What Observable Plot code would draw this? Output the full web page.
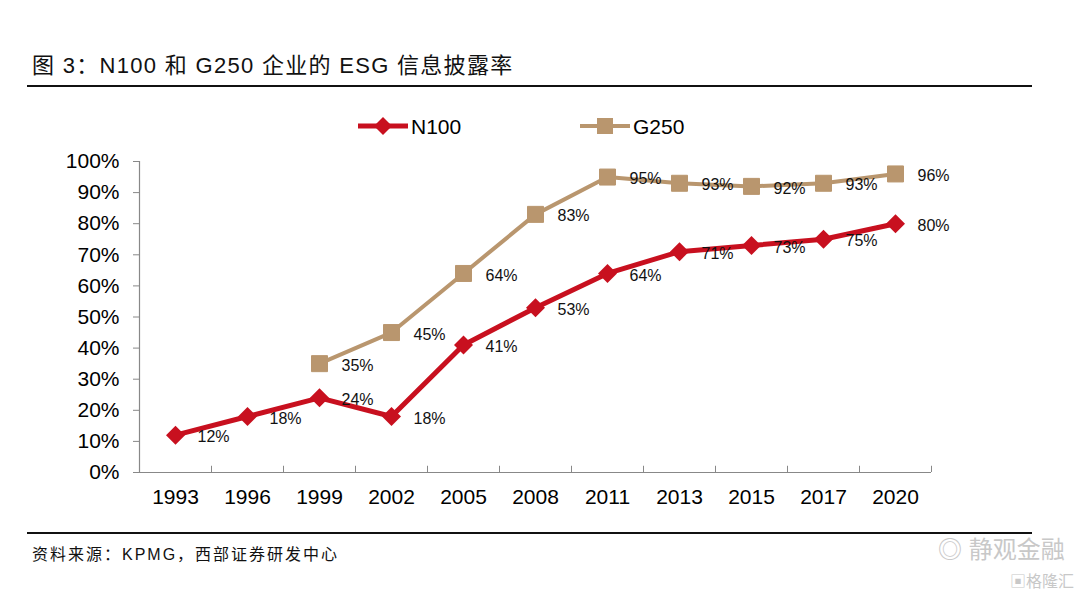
<!DOCTYPE html>
<html><head><meta charset="utf-8">
<script src="https://cdn.jsdelivr.net/npm/d3@7"></script>
<script src="https://cdn.jsdelivr.net/npm/@observablehq/plot@0.6"></script>
<style>
body{margin:0;background:#fff;font-family:"Liberation Sans",Arial,"Noto Sans CJK SC",sans-serif;}
#page{position:relative;width:1080px;height:593px;overflow:hidden;background:#fff;}
.abs{position:absolute;}
#chart g[aria-label="y-axis tick"]{stroke:#888;}
</style></head>
<body>
<div id="page">
  <div class="abs" id="title" style="left:32px;top:47px;font-size:22px;color:#111;white-space:nowrap;letter-spacing:1.3px;">图 3：N100 和 G250 企业的 ESG 信息披露率</div>
  <div class="abs" style="left:27px;top:85px;width:1005px;height:2px;background:#111;"></div>
  <div class="abs" id="legend" style="left:0;top:110px;"></div>
  <div class="abs" id="chart" style="left:0;top:140px;"></div>
  <div class="abs" style="left:27px;top:532px;width:1005px;height:2px;background:#111;"></div>
  <div class="abs" style="left:32px;top:541px;font-size:16px;color:#111;white-space:nowrap;letter-spacing:2px;">资料来源：KPMG，西部证券研发中心</div>
  <div class="abs" style="left:938px;top:530px;font-size:24px;color:#c8c8c8;white-space:nowrap;">◎ 静观金融</div>
  <div class="abs" style="left:1010px;top:568px;font-size:16px;color:#c8c8c8;white-space:nowrap;">▣格隆汇</div>
</div>
<script>
const years = ["1993","1996","1999","2002","2005","2008","2011","2013","2015","2017","2020"];
const n100 = [12,18,24,18,41,53,64,71,73,75,80];
const g250 = [null,null,35,45,64,83,95,93,92,93,96];
const yTicks = [0,10,20,30,40,50,60,70,80,90,100];
const seriesNames = ["N100","G250"];

const RED = "#C8101F";
const TAN = "#B9966E";

const diamond = {draw(ctx, size){ const r = Math.sqrt(size/Math.PI); ctx.moveTo(0,-r); ctx.lineTo(r,0); ctx.lineTo(0,r); ctx.lineTo(-r,0); ctx.closePath(); }};
const square = {draw(ctx, size){ const r = Math.sqrt(size/Math.PI); ctx.rect(-r,-r,2*r,2*r); }};

const dN = years.map((y,i)=>({year:y, v:n100[i]}));
const dG = years.map((y,i)=>({year:y, v:g250[i]})).filter(d=>d.v!=null);
const pct = d => d + "%";

const plot = Plot.plot({
  width:1080, height:380,
  marginTop:21, marginBottom:48, marginLeft:139, marginRight:149,
  style:{fontFamily:'"Liberation Sans",Arial,sans-serif', background:"transparent", color:"#000"},
  x:{type:"point", domain:years, padding:0.5, label:null},
  y:{domain:[0,100], label:null},
  marks:[
    Plot.ruleY([0], {stroke:"#888", strokeWidth:1.2}),
    Plot.ruleX([years[0]], {dx:-36, stroke:"#888", strokeWidth:1.2}),
    Plot.ruleX(years, {x:d=>d, y1:0, y2:2, dx:36, stroke:"#888"}),
    Plot.axisY({ticks:yTicks, tickFormat:pct, tickSize:6, tickPadding:14, fontSize:21, label:null}),
    Plot.axisX({tickSize:0, tickPadding:17, fontSize:21, label:null}),
    Plot.line(dG, {x:"year", y:"v", stroke:TAN, strokeWidth:4}),
    Plot.dot(dG, {x:"year", y:"v", symbol:square, r:8, fill:TAN, stroke:TAN, strokeWidth:1, strokeLinejoin:"round"}),
    Plot.line(dN, {x:"year", y:"v", stroke:RED, strokeWidth:5}),
    Plot.dot(dN, {x:"year", y:"v", symbol:diamond, r:9.5, fill:RED}),
    Plot.text(dG, {x:"year", y:"v", text:d=>pct(d.v), dx:38, dy:2, fontSize:16, fill:"#111"}),
    Plot.text(dN, {x:"year", y:"v", text:d=>pct(d.v), dx:38, dy:2, fontSize:16, fill:"#111"})
  ]
});
document.getElementById("chart").appendChild(plot);

// legend
const lg = d3.select("#legend").append("svg").attr("width",1080).attr("height",32)
  .style("font-family",'"Liberation Sans",Arial,sans-serif');
const items = [{name:seriesNames[0], color:RED, x:358, sym:"d"},{name:seriesNames[1], color:TAN, x:580, sym:"s"}];
items.forEach(it=>{
  const g = lg.append("g").attr("transform",`translate(${it.x},16)`);
  g.append("line").attr("x1",0).attr("x2",50).attr("stroke",it.color).attr("stroke-width",it.sym==="d"?5:4);
  if(it.sym==="d") g.append("path").attr("d","M25,-9L34,0L25,9L16,0Z").attr("fill",it.color);
  else g.append("rect").attr("x",17).attr("y",-8).attr("width",16).attr("height",16).attr("fill",it.color);
  g.append("text").attr("x",53).attr("y",8).attr("font-size",21).attr("fill","#000").text(it.name);
});
</script>
</body></html>
